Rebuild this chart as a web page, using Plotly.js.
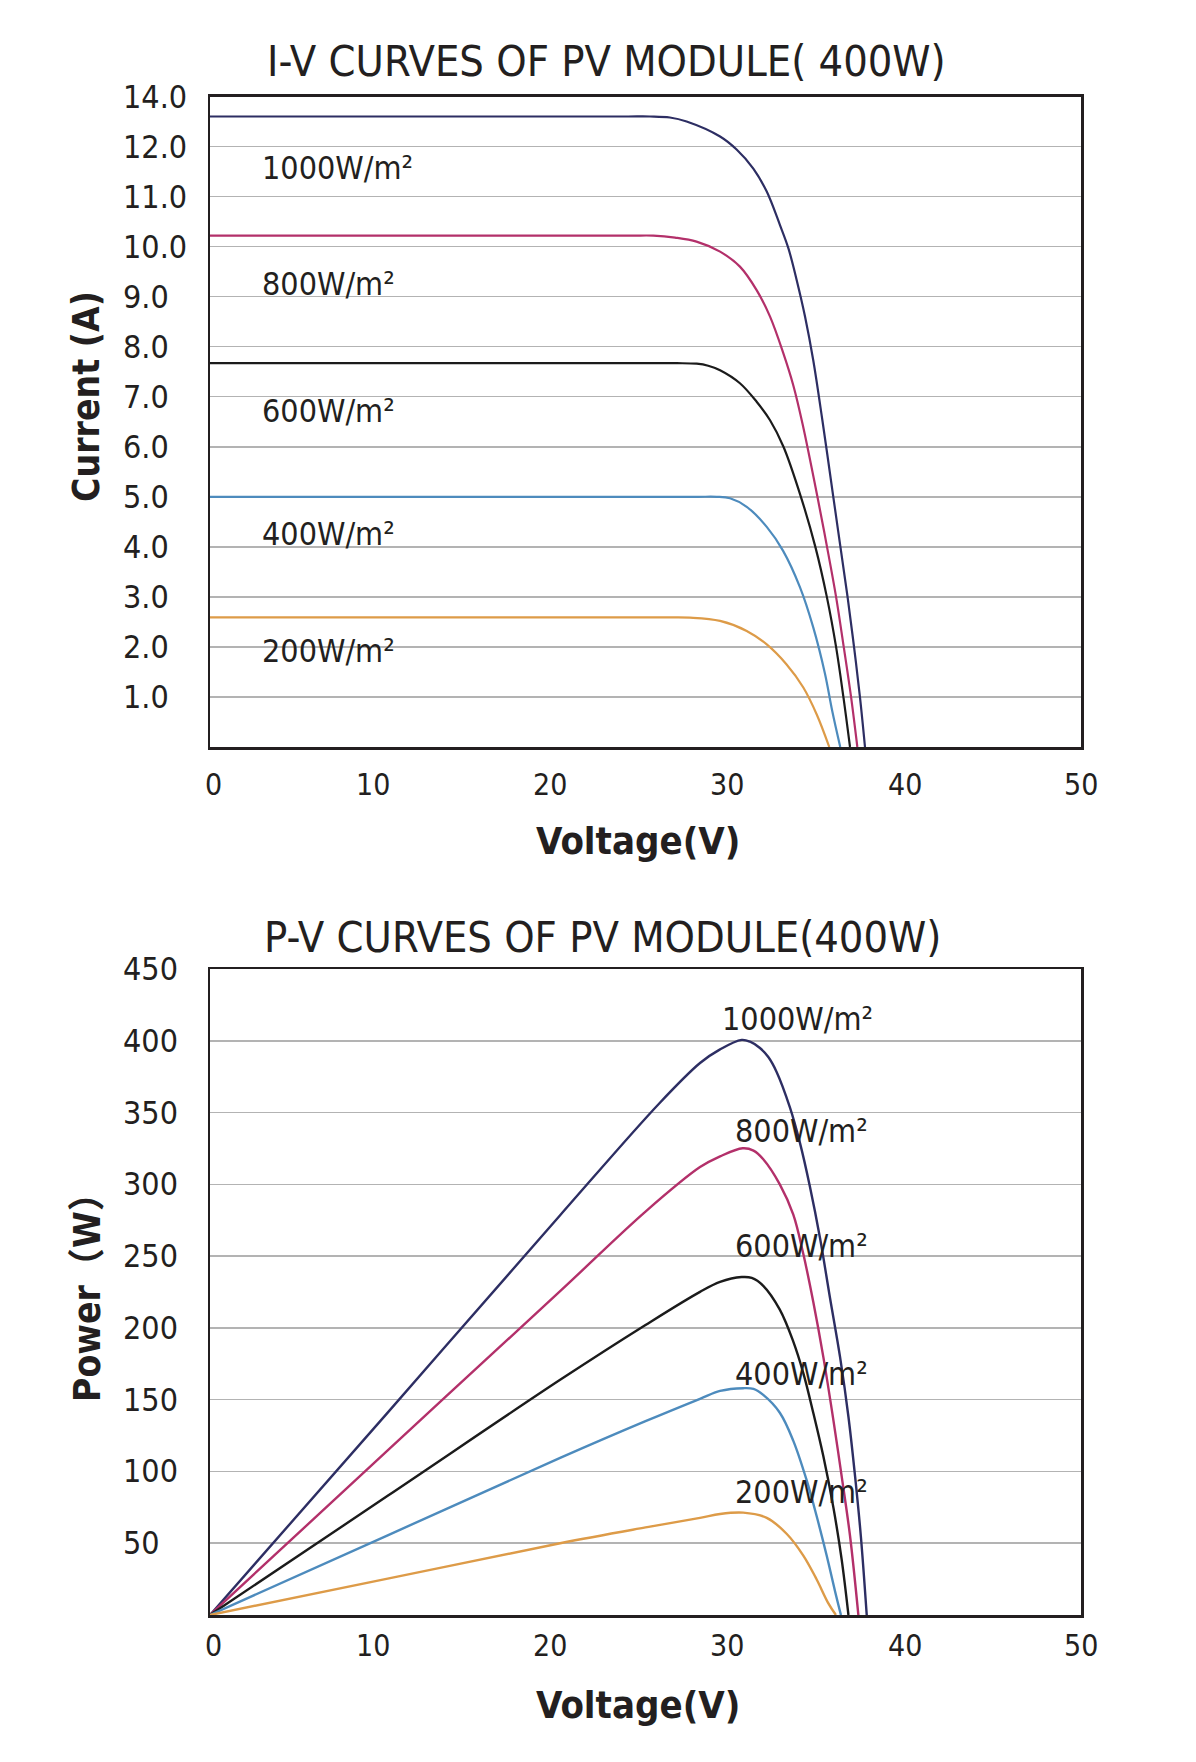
<!DOCTYPE html>
<html>
<head>
<meta charset="utf-8">
<script src="https://cdn.plot.ly/plotly-3.0.1.min.js"></script>
<style>
  html, body { margin: 0; padding: 0; background: #ffffff; }
  #chart { width: 1196px; height: 1762px; }
</style>
</head>
<body>
<div id="chart"></div>
<script>
// ---------- I-V data (Voltage V, Current A) ----------
const iv_v_1000 = [0, 5, 10, 15, 20, 24, 25.26, 26.4, 27.36, 29.28, 30.23, 31.19, 31.96, 32.72, 33.2, 33.68, 34.16, 34.63, 35.15, 35.78, 36.19, 36.6, 36.97, 37.31, 37.6];
const iv_i_1000 = [12.6, 12.6, 12.6, 12.6, 12.6, 12.6, 12.6, 12.58, 12.5, 12.2, 11.94, 11.56, 11.1, 10.43, 9.97, 9.33, 8.6, 7.73, 6.54, 5.0, 4.0, 3.0, 2.0, 1.0, 0];
const iv_v_800 = [0, 5, 10, 15, 20, 24.2, 25.45, 26.7, 27.93, 29.28, 30.42, 31.38, 32.15, 32.91, 33.49, 34.02, 34.87, 35.42, 35.94, 36.38, 36.8, 37.16];
const iv_i_800 = [10.22, 10.22, 10.22, 10.22, 10.22, 10.22, 10.22, 10.18, 10.1, 9.9, 9.6, 9.13, 8.6, 7.87, 7.22, 6.45, 5.0, 4.0, 3.0, 2.0, 1.0, 0];
const iv_v_600 = [0, 5, 10, 15, 20, 25, 26.8, 27.94, 28.6, 29.28, 30.42, 31.38, 32.15, 32.92, 33.92, 34.75, 35.41, 35.94, 36.36, 36.74];
const iv_i_600 = [7.67, 7.67, 7.67, 7.67, 7.67, 7.67, 7.67, 7.66, 7.62, 7.53, 7.27, 6.9, 6.53, 6.0, 5.0, 4.0, 3.0, 2.0, 1.0, 0];
const iv_v_400 = [0, 5, 10, 15, 20, 25, 28.0, 29.09, 29.85, 30.81, 31.96, 32.9, 33.87, 34.63, 35.3, 35.72, 36.18];
const iv_i_400 = [5.0, 5.0, 5.0, 5.0, 5.0, 5.0, 5.0, 5.0, 4.97, 4.8, 4.4, 3.92, 3.19, 2.39, 1.47, 0.72, 0];
const iv_v_200 = [0, 5, 10, 15, 20, 25, 26.4, 27.55, 29.28, 30.81, 31.96, 33.1, 34.06, 34.83, 35.55];
const iv_i_200 = [2.59, 2.59, 2.59, 2.59, 2.59, 2.59, 2.59, 2.585, 2.52, 2.32, 2.05, 1.65, 1.19, 0.65, 0];

// ---------- P-V data (Voltage V, Power W) ----------
const pv_v_1000 = [0, 10.2, 20.1, 25.8, 28.13, 29.28, 30.52, 31.0, 31.57, 32.05, 32.52, 33.29, 33.87, 34.44, 35.02, 35.59, 36.17, 36.65, 37.03, 37.36, 37.7];
const pv_p_1000 = [0, 141, 278.5, 356.5, 384.5, 394, 400.6, 399.4, 395, 388.7, 378.5, 353.6, 328.7, 298.3, 262.4, 221, 179.6, 138.1, 96.7, 55.2, 0];
const pv_v_800 = [0, 10.2, 20.1, 25.0, 28.13, 29.28, 30.58, 31.2, 31.76, 32.71, 33.48, 34.06, 34.63, 35.21, 35.79, 36.26, 36.74, 37.22];
const pv_p_800 = [0, 114.7, 225.6, 281, 312, 319.5, 325.1, 323.5, 317.5, 300, 279, 251.4, 218.2, 179.6, 135.4, 96.7, 55.2, 0];
const pv_v_600 = [0, 10.2, 20.1, 25.0, 28.13, 29.28, 30.52, 31.1, 31.76, 32.71, 33.48, 34.06, 34.63, 35.21, 35.79, 36.26, 36.65];
const pv_p_600 = [0, 83, 163.8, 202, 225.1, 232, 235.4, 234.8, 229.3, 212.7, 190.6, 168.5, 140.9, 110.5, 74.6, 38.7, 0];
const pv_v_400 = [0, 10.2, 20.1, 25.0, 28.13, 29.28, 30.61, 31.2, 31.76, 32.71, 33.48, 34.25, 34.82, 35.4, 35.88, 36.22];
const pv_p_400 = [0, 55.5, 109.4, 135, 150.6, 156.1, 158, 157.5, 153.3, 140.9, 121.5, 93.9, 69.1, 41.4, 16.6, 0];
const pv_v_200 = [0, 10.2, 20.1, 25.0, 28.13, 29.28, 30.61, 31.96, 33.1, 34.06, 34.82, 35.49, 35.93];
const pv_p_200 = [0, 25.3, 50, 61, 67.7, 70.4, 71.3, 67.7, 56.6, 41.4, 24.9, 8.3, 0];

// ---------- labels ----------
const series_names = ['1000W/m²', '800W/m²', '600W/m²', '400W/m²', '200W/m²'];
const iv_label_x = [2.85, 2.85, 2.85, 2.85, 2.85];
const iv_label_y = [11.58, 9.25, 6.72, 4.25, 1.91];
const pv_label_x = [33.73, 33.97, 33.97, 33.97, 33.97];
const pv_label_y = [415.3, 337.4, 257.2, 168.2, 85.4];

const x_tick_vals = [0, 10, 20, 30, 40, 50];
const x_tick_text = ['0', '10', '20', '30', '40', '50'];
const iv_tick_vals = [13, 12, 11, 10, 9, 8, 7, 6, 5, 4, 3, 2, 1];
const iv_tick_text = ['14.0', '12.0', '11.0', '10.0', '9.0', '8.0', '7.0', '6.0', '5.0', '4.0', '3.0', '2.0', '1.0'];
const pv_tick_vals = [450, 400, 350, 300, 250, 200, 150, 100, 50];
const pv_tick_text = ['450', '400', '350', '300', '250', '200', '150', '100', '50'];

const iv_title = 'I-V CURVES OF PV MODULE( 400W)';
const pv_title = 'P-V CURVES OF PV MODULE(400W)';
const iv_ytitle = 'Current (A)';
const pv_ytitle = 'Power（W）';
const x_title = 'Voltage(V)';

const colors = ['#2d2e63', '#b3306a', '#1b1b1b', '#4d8bbd', '#dd9b48'];

// ---------- styling helpers ----------
const FONT = "'DejaVu Sans Condensed', 'DejaVu Sans', 'Noto Sans CJK SC', sans-serif";
const TXT = '#231f20';
const X_LABEL_NUDGE = [3, -11, -8, -6, -2, 0];   // small pixel nudges of x tick labels, as in the original artwork

const ivV = [iv_v_1000, iv_v_800, iv_v_600, iv_v_400, iv_v_200];
const ivI = [iv_i_1000, iv_i_800, iv_i_600, iv_i_400, iv_i_200];
const pvV = [pv_v_1000, pv_v_800, pv_v_600, pv_v_400, pv_v_200];
const pvP = [pv_p_1000, pv_p_800, pv_p_600, pv_p_400, pv_p_200];

const traces = [];
for (let k = 0; k < 5; k++) {
  traces.push({
    x: ivV[k], y: ivI[k], xaxis: 'x', yaxis: 'y', type: 'scatter', mode: 'lines',
    name: series_names[k], line: { color: colors[k], width: 2.2, shape: 'spline', smoothing: 1.0, simplify: false },
    hoverinfo: 'skip'
  });
}
for (let k = 0; k < 5; k++) {
  traces.push({
    x: pvV[k], y: pvP[k], xaxis: 'x2', yaxis: 'y2', type: 'scatter', mode: 'lines',
    name: series_names[k], line: { color: colors[k], width: 2.4, shape: 'spline', smoothing: 1.0, simplify: false },
    hoverinfo: 'skip'
  });
}

const W = 1196, H = 1762, L = 210, R = 115;
const PW = W - L - R;
const px = (p) => (p - L) / PW;      // pixel x -> paper x
const py = (p) => 1 - p / H;          // pixel y -> paper y

const ann = [];
ann.push({ text: iv_title, xref: 'paper', yref: 'paper', x: px(606), y: py(61), xanchor: 'center', yanchor: 'middle', showarrow: false, font: { family: FONT, size: 43, color: TXT } });
ann.push({ text: pv_title, xref: 'paper', yref: 'paper', x: px(602), y: py(937), xanchor: 'center', yanchor: 'middle', showarrow: false, font: { family: FONT, size: 43, color: TXT } });
ann.push({ text: '<b>' + iv_ytitle + '</b>', xref: 'paper', yref: 'paper', x: px(87), y: py(397), textangle: -90, xanchor: 'center', yanchor: 'middle', showarrow: false, font: { family: FONT, size: 37, color: TXT } });
ann.push({ text: '<b>' + pv_ytitle + '</b>', xref: 'paper', yref: 'paper', x: px(87), y: py(1288), textangle: -90, xanchor: 'center', yanchor: 'middle', showarrow: false, font: { family: FONT, size: 37, color: TXT } });
ann.push({ text: '<b>' + x_title + '</b>', xref: 'paper', yref: 'paper', x: px(638), y: py(841), xanchor: 'center', yanchor: 'middle', showarrow: false, font: { family: FONT, size: 38, color: TXT } });
ann.push({ text: '<b>' + x_title + '</b>', xref: 'paper', yref: 'paper', x: px(638), y: py(1705), xanchor: 'center', yanchor: 'middle', showarrow: false, font: { family: FONT, size: 38, color: TXT } });
iv_tick_vals.forEach((v, i) => ann.push({ text: iv_tick_text[i], xref: 'paper', yref: 'y', x: px(121), y: v, xanchor: 'left', yanchor: 'middle', showarrow: false, font: { family: FONT, size: 32, color: TXT } }));
pv_tick_vals.forEach((v, i) => ann.push({ text: pv_tick_text[i], xref: 'paper', yref: 'y2', x: px(121), y: v, xanchor: 'left', yanchor: 'middle', showarrow: false, font: { family: FONT, size: 32, color: TXT } }));
x_tick_vals.forEach((v, i) => {
  ann.push({ text: x_tick_text[i], xref: 'x', yref: 'paper', x: v, y: py(784), xshift: X_LABEL_NUDGE[i], xanchor: 'center', yanchor: 'middle', showarrow: false, font: { family: FONT, size: 30, color: TXT } });
  ann.push({ text: x_tick_text[i], xref: 'x2', yref: 'paper', x: v, y: py(1645), xshift: X_LABEL_NUDGE[i], xanchor: 'center', yanchor: 'middle', showarrow: false, font: { family: FONT, size: 30, color: TXT } });
});
for (let k = 0; k < 5; k++) {
  ann.push({ text: series_names[k], xref: 'x', yref: 'y', x: iv_label_x[k], y: iv_label_y[k], xanchor: 'left', yanchor: 'middle', showarrow: false, font: { family: FONT, size: 32, color: TXT } });
  ann.push({ text: series_names[k], xref: 'x2', yref: 'y2', x: pv_label_x[k], y: pv_label_y[k], xanchor: 'center', yanchor: 'middle', showarrow: false, font: { family: FONT, size: 32, color: TXT } });
}

const axX = (anchor) => ({
  anchor: anchor, domain: [0, 1], range: [0, 50], showgrid: false, zeroline: false,
  showticklabels: false, ticks: '', showline: true, mirror: true, linecolor: TXT, linewidth: 2.5, fixedrange: true
});
const axY = (anchor, dom, rng, grid) => ({
  anchor: anchor, domain: dom, range: rng, tickmode: 'array', tickvals: grid, showgrid: true,
  gridcolor: '#b3b3b3', gridwidth: 1.5, zeroline: false, showticklabels: false, ticks: '',
  showline: true, mirror: true, linecolor: TXT, linewidth: 2.5, fixedrange: true
});

const layout = {
  width: W, height: H,
  margin: { l: L, r: R, t: 0, b: 0, pad: 0 },
  paper_bgcolor: '#ffffff', plot_bgcolor: '#ffffff',
  showlegend: false,
  font: { family: FONT, color: TXT },
  xaxis: axX('y'),
  yaxis: axY('x', [py(747), py(96.5)], [0, 13], [1, 2, 3, 4, 5, 6, 7, 8, 9, 10, 11, 12]),
  xaxis2: axX('y2'),
  yaxis2: axY('x2', [py(1615), py(969)], [0, 450], [50, 100, 150, 200, 250, 300, 350, 400]),
  annotations: ann
};

Plotly.newPlot('chart', traces, layout, { staticPlot: true, displayModeBar: false });
</script>
</body>
</html>
